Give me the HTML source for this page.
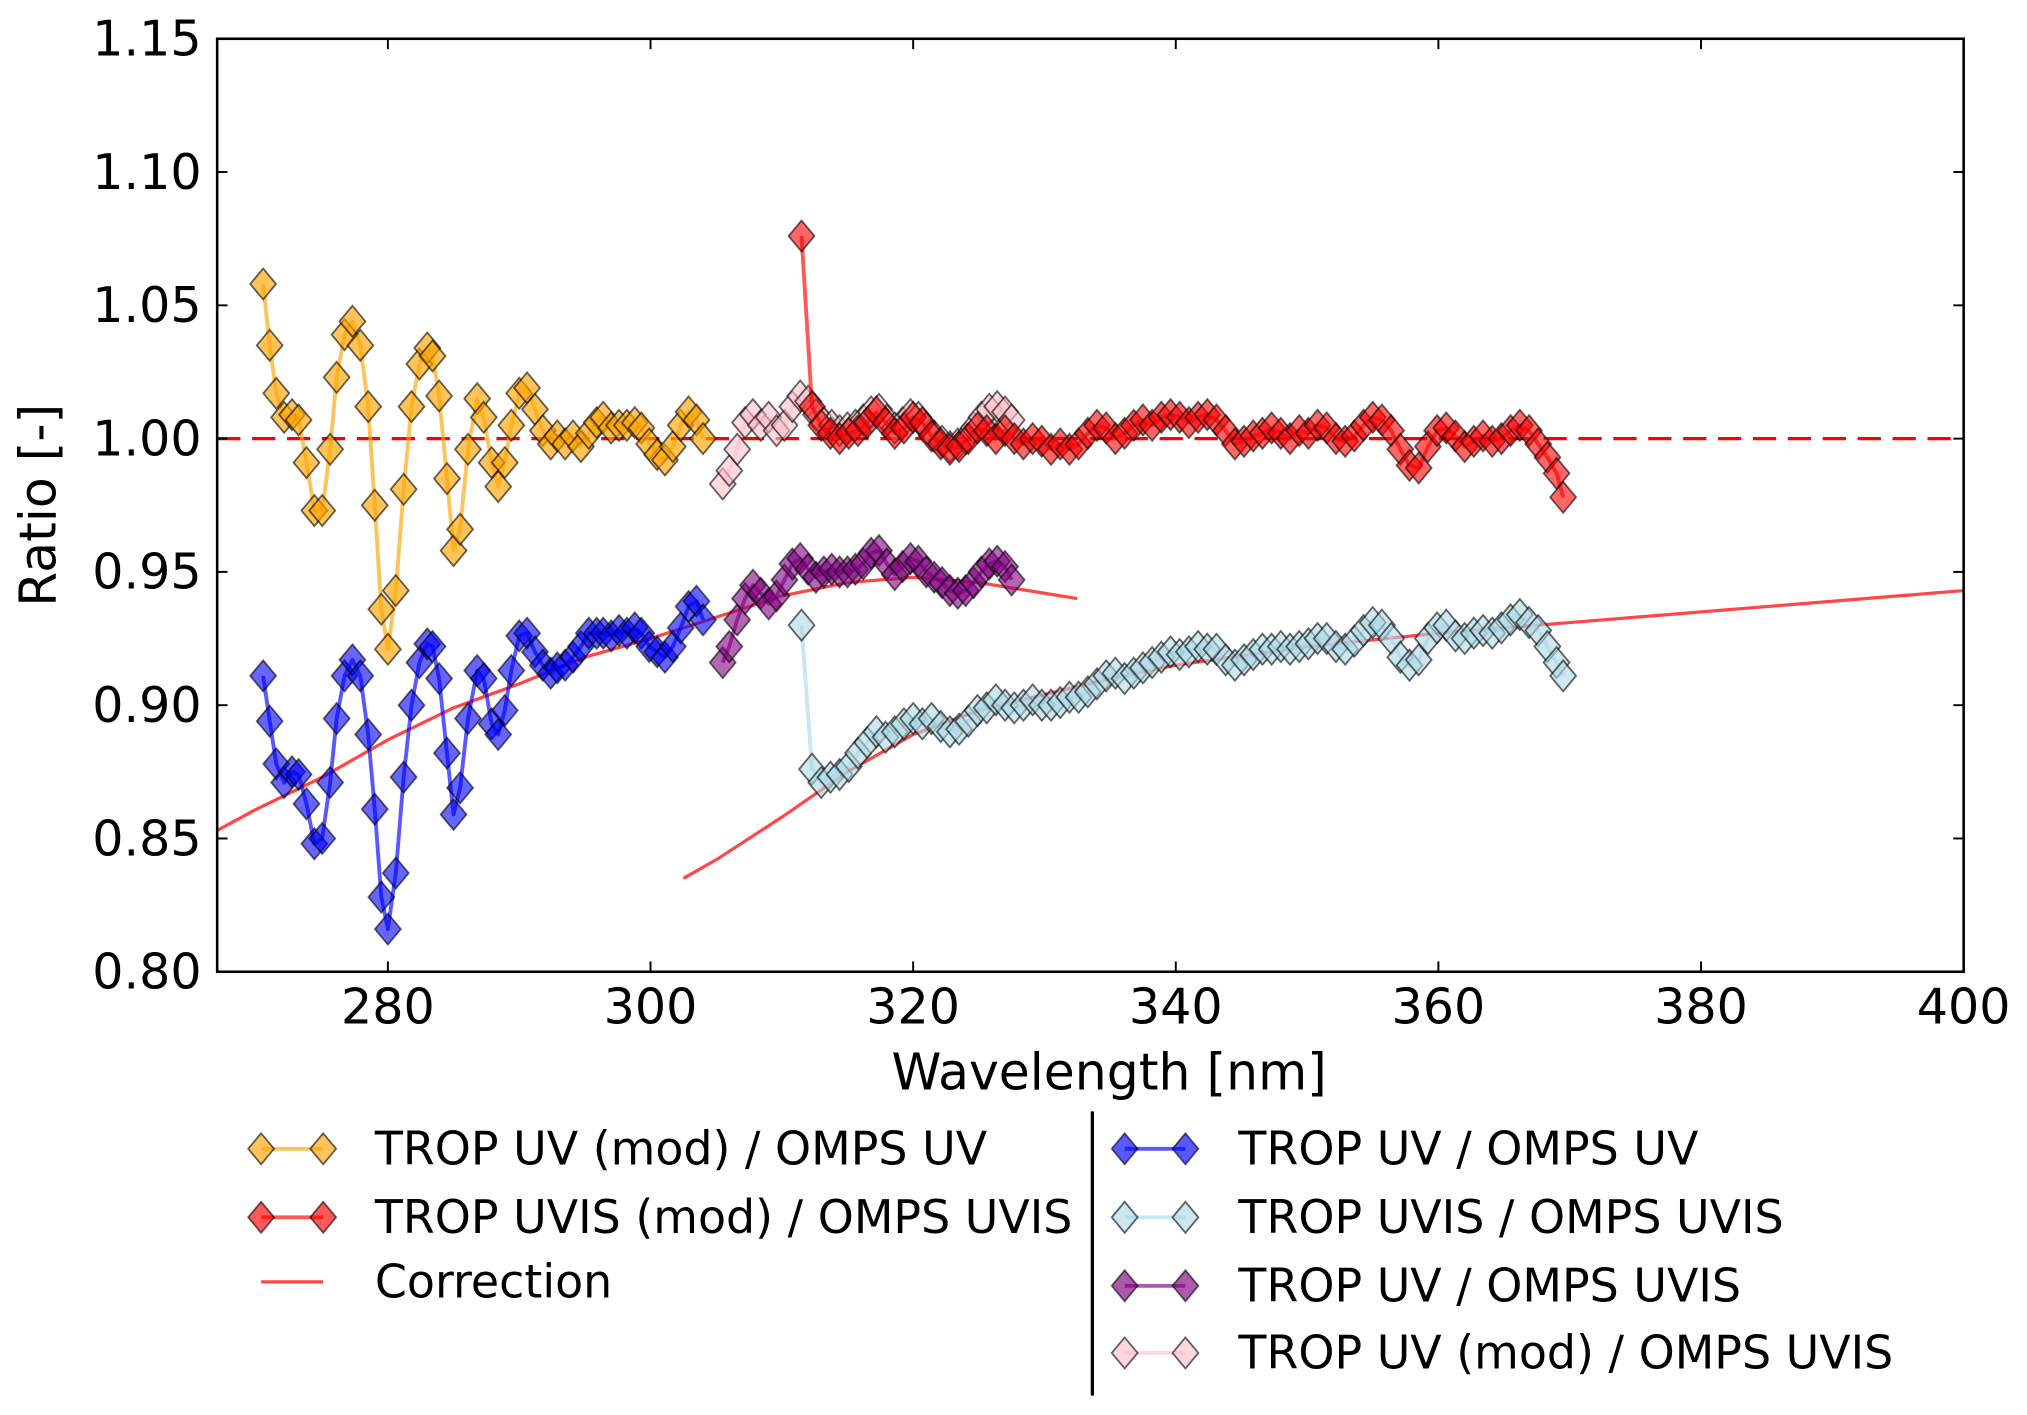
<!DOCTYPE html>
<html><head><meta charset="utf-8"><style>
html,body{margin:0;padding:0;background:#fff}
svg{display:block;font-family:"DejaVu Sans","Liberation Sans",sans-serif}
</style></head><body>
<svg id="chart" width="2027" height="1415" viewBox="0 0 1568 1095" preserveAspectRatio="none" xmlns="http://www.w3.org/2000/svg">
<rect width="1568" height="1095" fill="#fff"/>
<g id="plot"></g>
<g id="axes"></g>
<g id="legend"></g>
</svg>
<script>
const xTicks=[280,300,320,340,360,380,400];
const yTicks=[0.80,0.85,0.90,0.95,1.00,1.05,1.10,1.15];
const yTickLabels=["0.80","0.85","0.90","0.95","1.00","1.05","1.10","1.15"];
const orangeX=[270.5,271.0,271.5,272.1,272.7,273.2,273.8,274.4,275.0,275.6,276.1,276.7,277.3,277.9,278.5,279.0,279.5,280.0,280.6,281.2,281.8,282.4,283.0,283.4,283.9,284.5,285.0,285.5,286.1,286.8,287.3,287.9,288.4,288.9,289.4,290.0,290.6,291.2,291.8,292.4,292.9,293.5,294.1,294.7,295.3,295.9,296.4,297.0,297.6,298.2,298.8,299.3,299.9,300.5,301.1,301.7,302.3,302.9,303.5,304.0];
const orangeY=[1.058,1.035,1.017,1.008,1.009,1.007,0.991,0.973,0.973,0.996,1.023,1.039,1.044,1.035,1.012,0.975,0.936,0.921,0.943,0.981,1.012,1.028,1.034,1.031,1.016,0.985,0.958,0.966,0.996,1.015,1.008,0.991,0.982,0.991,1.005,1.017,1.019,1.011,1.003,0.998,1.001,0.998,1.001,0.997,1.002,1.006,1.008,1.004,1.005,1.005,1.006,1.004,0.998,0.994,0.992,0.997,1.005,1.010,1.007,1.000];
const blueX=orangeX;
const blueY=[0.911,0.894,0.878,0.871,0.875,0.874,0.863,0.848,0.850,0.871,0.895,0.911,0.917,0.911,0.889,0.861,0.828,0.816,0.837,0.873,0.900,0.916,0.923,0.922,0.910,0.882,0.859,0.869,0.895,0.913,0.910,0.893,0.889,0.898,0.913,0.926,0.927,0.920,0.915,0.912,0.914,0.915,0.918,0.922,0.927,0.927,0.927,0.926,0.928,0.927,0.929,0.927,0.922,0.920,0.918,0.922,0.929,0.937,0.939,0.932];
const pinkX=[305.5,306.0,306.6,307.2,307.8,308.4,309.0,309.6,310.2,310.8,311.4,312.0,312.6,313.2,313.8,314.4,315.0,315.6,316.2,316.8,317.4,318.0,318.6,319.2,319.8,320.4,321.0,321.6,322.2,322.8,323.4,324.0,324.6,325.2,325.8,326.4,327.0,327.5];
const pinkY=[0.983,0.988,0.996,1.006,1.009,1.005,1.008,1.003,1.005,1.012,1.016,1.014,1.009,1.006,1.005,1.003,1.004,1.005,1.007,1.010,1.011,1.007,1.004,1.006,1.009,1.008,1.004,1.001,0.999,0.997,0.998,1.000,1.004,1.008,1.011,1.012,1.010,1.007];
const purpleX=pinkX;
const purpleY=[0.916,0.922,0.932,0.940,0.945,0.942,0.938,0.941,0.947,0.953,0.955,0.951,0.948,0.950,0.951,0.950,0.950,0.951,0.953,0.957,0.958,0.953,0.949,0.952,0.955,0.954,0.950,0.948,0.946,0.943,0.942,0.943,0.946,0.950,0.953,0.954,0.952,0.947];
const redX=[311.5,312.3,313.0,313.7,314.4,315.1,315.8,316.5,317.2,317.9,318.6,319.3,320.0,320.7,321.4,322.1,322.8,323.5,324.2,324.9,325.6,326.3,327.0,327.7,328.4,329.1,329.8,330.5,331.2,331.9,332.6,333.3,334.0,334.7,335.4,336.1,336.8,337.5,338.2,338.9,339.6,340.3,341.0,341.7,342.4,343.1,343.8,344.5,345.2,345.9,346.6,347.3,348.0,348.7,349.4,350.1,350.8,351.5,352.2,352.9,353.6,354.3,355.0,355.7,356.4,357.1,357.8,358.5,359.2,359.9,360.6,361.3,362.0,362.7,363.4,364.1,364.8,365.5,366.2,366.9,367.6,368.3,369.0,369.5];
const redY=[1.076,1.012,1.005,1.002,1.000,1.002,1.003,1.006,1.010,1.006,1.002,1.004,1.008,1.006,1.001,0.998,0.996,0.997,1.000,1.004,1.003,1.000,1.003,1.000,0.998,1.000,0.999,0.996,0.998,0.996,0.998,1.002,1.005,1.004,1.000,1.002,1.005,1.007,1.005,1.008,1.009,1.008,1.006,1.008,1.009,1.007,1.003,0.998,0.999,1.001,1.002,1.004,1.002,1.000,1.003,1.002,1.005,1.004,1.000,0.999,1.001,1.005,1.008,1.007,1.003,0.996,0.990,0.989,0.997,1.003,1.004,1.001,0.997,0.999,1.001,0.999,1.000,1.003,1.005,1.003,0.998,0.993,0.987,0.978];
const lightX=redX;
const lightY=[0.930,0.876,0.871,0.873,0.874,0.877,0.882,0.886,0.890,0.888,0.890,0.893,0.895,0.893,0.895,0.892,0.890,0.891,0.894,0.898,0.899,0.902,0.900,0.899,0.900,0.902,0.900,0.900,0.901,0.903,0.903,0.905,0.908,0.911,0.912,0.910,0.912,0.914,0.916,0.918,0.920,0.919,0.920,0.922,0.921,0.921,0.917,0.915,0.917,0.919,0.921,0.921,0.922,0.921,0.922,0.923,0.925,0.925,0.922,0.921,0.924,0.928,0.931,0.930,0.925,0.918,0.915,0.917,0.925,0.929,0.930,0.926,0.925,0.927,0.928,0.927,0.929,0.932,0.934,0.931,0.928,0.922,0.916,0.911];
const corr1X=[267,270,275,280,285,290,295,300,305,310,315,320,325,330,332.5];
const corr1Y=[0.853,0.861,0.873,0.887,0.899,0.908,0.918,0.925,0.933,0.941,0.946,0.948,0.946,0.942,0.940];
const corr2X=[302.5,305,310,315,320,325,330,335,340,350,360,370,380,390,400];
const corr2Y=[0.835,0.842,0.858,0.875,0.889,0.898,0.904,0.910,0.915,0.922,0.927,0.931,0.935,0.939,0.943];

const NS="http://www.w3.org/2000/svg";
const L=168,R=1519,T=30,B=752,X0=267,X1=400,Y0=0.80,Y1=1.15;
const sx=v=>L+(v-X0)/(X1-X0)*(R-L);
const sy=v=>B-(v-Y0)/(Y1-Y0)*(B-T);
function mk(tag,attrs,parent){const e=document.createElementNS(NS,tag);for(const k in attrs)e.setAttribute(k,attrs[k]);parent.appendChild(e);return e;}
const plot=document.getElementById('plot'),axes=document.getElementById('axes'),leg=document.getElementById('legend');
const cp=mk('clipPath',{id:'clip'},plot);
mk('rect',{x:L,y:T,width:R-L,height:B-T},cp);
const g=mk('g',{'clip-path':'url(#clip)'},plot);
const dash=mk('line',{x1:L,x2:R,y1:sy(1),y2:sy(1),stroke:'#ff0000','stroke-width':2.5,'stroke-dasharray':'18,9'},g);


function diamond(cx,cy,fill,parent,op){const w=10,h=12;return mk('polygon',{points:`${cx},${cy-h} ${cx+w},${cy} ${cx},${cy+h} ${cx-w},${cy}`,fill:fill,'fill-opacity':op,stroke:'#000','stroke-opacity':0.6,'stroke-width':1.4},parent);}
function series(name,xs,ys,color,fillOp){
  const sg=mk('g',{},g);
  
  
  const pl=mk('polyline',{points:xs.map((x,i)=>sx(x)+','+sy(ys[i])).join(' '),fill:'none',stroke:color,'stroke-width':3,'stroke-opacity':0.65,'stroke-linejoin':'round'},sg);
  
  
  xs.forEach((x,i)=>{const d=diamond(sx(x),sy(ys[i]),color,sg,fillOp);
    
    });
}
function curve(name,xs,ys){const p=mk('polyline',{points:xs.map((x,i)=>sx(x)+','+sy(ys[i])).join(' '),fill:'none',stroke:'#ff3333','stroke-width':2.5,'stroke-opacity':0.9},g);
  
  }
curve('correction-curve-uv',corr1X,corr1Y);
curve('correction-curve-uvis',corr2X,corr2Y);
series('trop-uv-mod-omps-uv',orangeX,orangeY,'#ffa500',0.65);
series('trop-uv-omps-uv',blueX,blueY,'#0000ff',0.6);
series('trop-uv-mod-omps-uvis',pinkX,pinkY,'#ffc0cb',0.6);
series('trop-uv-omps-uvis',purpleX,purpleY,'#800080',0.6);
series('trop-uvis-omps-uvis',lightX,lightY,'#add8e6',0.6);
series('trop-uvis-mod-omps-uvis',redX,redY,'#ff0000',0.6);
const fr=mk('rect',{x:L,y:T,width:R-L,height:B-T,fill:'none',stroke:'#000','stroke-width':2},axes);


xTicks.forEach(v=>{const x=sx(v);
  mk('line',{x1:x,x2:x,y1:B,y2:B-8,stroke:'#000','stroke-width':1.5},axes);
  mk('line',{x1:x,x2:x,y1:T,y2:T+8,stroke:'#000','stroke-width':1.5},axes);
  const t=mk('text',{x:x,y:B+40,'text-anchor':'middle','font-size':38},axes);t.textContent=v;
  
  });
yTicks.forEach((v,i)=>{const y=sy(v);
  mk('line',{x1:L,x2:L+8,y1:y,y2:y,stroke:'#000','stroke-width':1.5},axes);
  mk('line',{x1:R,x2:R-8,y1:y,y2:y,stroke:'#000','stroke-width':1.5},axes);
  const t=mk('text',{x:L-12,y:y+13,'text-anchor':'end','font-size':38},axes);t.textContent=yTickLabels[i];
  
  });
const xl=mk('text',{x:858,y:843,'text-anchor':'middle','font-size':39},axes);xl.textContent='Wavelength [nm]';


const yl=mk('text',{x:0,y:0,'text-anchor':'middle','font-size':39,transform:'translate(43,391) rotate(-90)'},axes);yl.textContent='Ratio [-]';


const sep=mk('line',{x1:845,x2:845,y1:860,y2:1080,stroke:'#000','stroke-width':2.5},leg);


const entries=[[202,250,290,889,'#ffa500','TROP UV (mod) / OMPS UV',true],[202,250,290,942,'#ff0000','TROP UVIS (mod) / OMPS UVIS',true],[202,250,290,992,'#ff3333','Correction',false],
[870,917,958,889,'#0000ff','TROP UV / OMPS UV',true],[870,917,958,942,'#add8e6','TROP UVIS / OMPS UVIS',true],[870,917,958,995,'#800080','TROP UV / OMPS UVIS',true],[870,917,958,1047,'#ffc0cb','TROP UV (mod) / OMPS UVIS',true]];
entries.forEach(e=>{const [a,b,tx,y,c,label,mark]=e;
  const eg=mk('g',{},leg);
  
  
  mk('line',{x1:a,x2:b,y1:y,y2:y,stroke:c,'stroke-width':mark?3:2.5,'stroke-opacity':mark?0.65:0.9},eg);
  if(mark){diamond(a,y,c,eg,0.65);diamond(b,y,c,eg,0.65);}
  const t=mk('text',{x:tx,y:y+12,'font-size':35.5},eg);t.textContent=label;
  
  });
</script>
</body></html>
